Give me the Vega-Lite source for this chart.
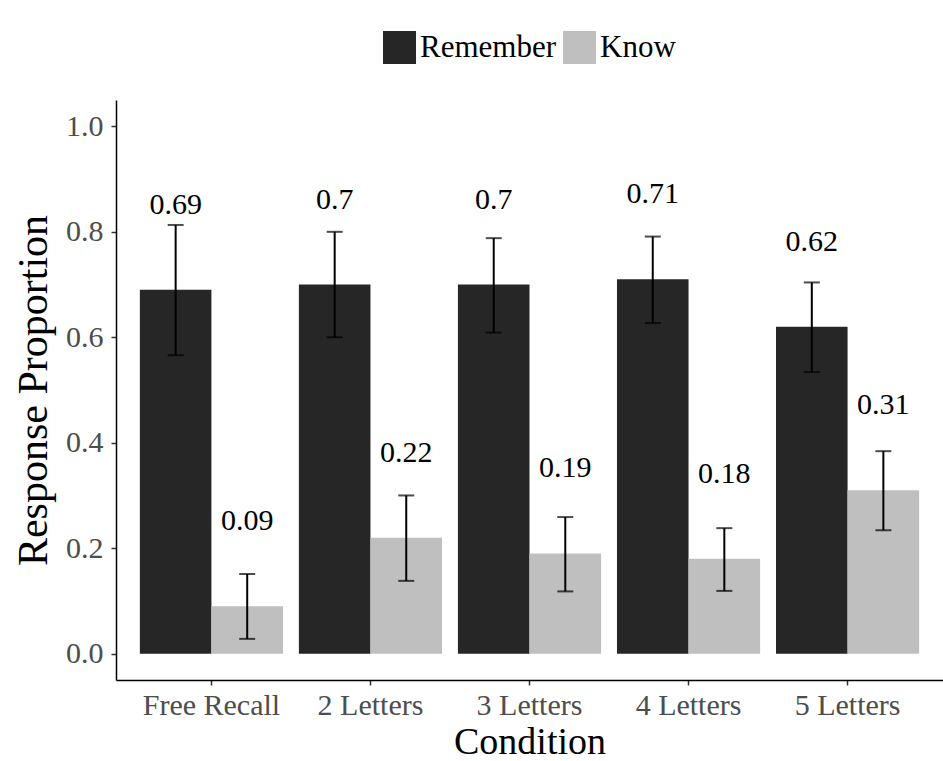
{
  "$schema": "https://vega.github.io/schema/vega-lite/v6.json",
  "width": 827,
  "height": 580,
  "autosize": {"type": "none"},
  "padding": {"left": 116, "top": 100, "right": 0, "bottom": 81},
  "background": "white",
  "config": {
    "view": {"stroke": null},
    "font": "Liberation Serif",
    "axis": {
      "domainColor": "black",
      "domainWidth": 1.5,
      "tickColor": "#333333",
      "tickWidth": 1.5,
      "tickSize": 5,
      "grid": false,
      "labelFont": "Liberation Serif",
      "labelFontSize": 30,
      "labelColor": "#4d4d4d",
      "titleFont": "Liberation Serif",
      "titleFontWeight": "normal",
      "titleColor": "black"
    },
    "legend": {
      "labelFont": "Liberation Serif",
      "labelFontSize": 31,
      "labelColor": "black"
    }
  },
  "data": {
    "values": [
      {"condition": "Free Recall", "type": "Remember", "value": 0.69, "lo": 0.566, "hi": 0.813},
      {"condition": "Free Recall", "type": "Know", "value": 0.09, "lo": 0.028, "hi": 0.151},
      {"condition": "2 Letters", "type": "Remember", "value": 0.7, "lo": 0.6, "hi": 0.8},
      {"condition": "2 Letters", "type": "Know", "value": 0.22, "lo": 0.138, "hi": 0.3},
      {"condition": "3 Letters", "type": "Remember", "value": 0.7, "lo": 0.609, "hi": 0.788},
      {"condition": "3 Letters", "type": "Know", "value": 0.19, "lo": 0.118, "hi": 0.259},
      {"condition": "4 Letters", "type": "Remember", "value": 0.71, "lo": 0.627, "hi": 0.791},
      {"condition": "4 Letters", "type": "Know", "value": 0.18, "lo": 0.119, "hi": 0.238},
      {"condition": "5 Letters", "type": "Remember", "value": 0.62, "lo": 0.534, "hi": 0.704},
      {"condition": "5 Letters", "type": "Know", "value": 0.31, "lo": 0.234, "hi": 0.384}
    ]
  },
  "encoding": {
    "x": {
      "field": "condition",
      "type": "nominal",
      "sort": ["Free Recall", "2 Letters", "3 Letters", "4 Letters", "5 Letters"],
      "scale": {"paddingInner": 0.1, "paddingOuter": 0.15},
      "axis": {"title": "Condition", "titleFontSize": 38, "labelAngle": 0, "labelPadding": 5, "titlePadding": 3}
    },
    "xOffset": {
      "field": "type",
      "type": "nominal",
      "sort": ["Remember", "Know"],
      "scale": {"paddingInner": 0, "paddingOuter": 0}
    }
  },
  "layer": [
    {
      "mark": {"type": "bar"},
      "encoding": {
        "y": {
          "field": "value",
          "type": "quantitative",
          "scale": {"domain": [-0.05, 1.05], "nice": false, "zero": false},
          "axis": {
            "title": "Response Proportion",
            "titleFontSize": 42,
            "values": [0, 0.2, 0.4, 0.6, 0.8, 1.0],
            "format": ".1f",
            "labelPadding": 8,
            "titlePadding": 10
          }
        },
        "y2": {"datum": 0},
        "color": {
          "field": "type",
          "type": "nominal",
          "sort": ["Remember", "Know"],
          "scale": {"domain": ["Remember", "Know"], "range": ["#262626", "#bfbfbf"]},
          "legend": {
            "title": null,
            "orient": "none",
            "direction": "horizontal",
            "legendX": 267,
            "legendY": -69,
            "symbolType": "square",
            "symbolSize": 1089,
            "symbolStrokeWidth": 0,
            "symbolOpacity": 1,
            "labelOffset": 4,
            "columnPadding": 6,
            "padding": 0
          }
        }
      }
    },
    {
      "mark": {"type": "rule", "color": "black", "strokeWidth": 2},
      "encoding": {
        "y": {"field": "lo", "type": "quantitative"},
        "y2": {"field": "hi"}
      }
    },
    {
      "mark": {"type": "tick", "color": "black", "size": 16, "thickness": 2},
      "encoding": {
        "y": {"field": "lo", "type": "quantitative"}
      }
    },
    {
      "mark": {"type": "tick", "color": "black", "size": 16, "thickness": 2},
      "encoding": {
        "y": {"field": "hi", "type": "quantitative"}
      }
    },
    {
      "mark": {"type": "text", "fontSize": 30, "color": "black", "baseline": "middle", "dy": -85, "font": "Liberation Serif"},
      "encoding": {
        "y": {"field": "value", "type": "quantitative"},
        "text": {"field": "value", "type": "nominal"}
      }
    }
  ]
}
